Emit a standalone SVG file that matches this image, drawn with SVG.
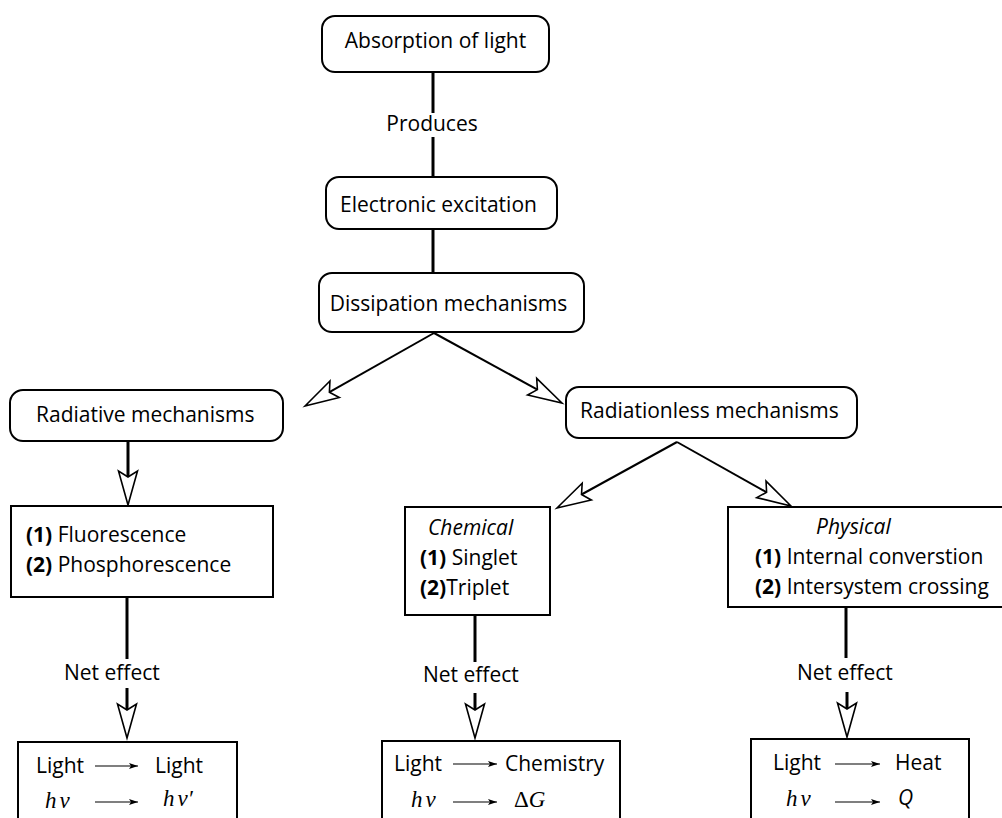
<svg xmlns="http://www.w3.org/2000/svg" width="1002" height="818" viewBox="0 0 1002 818">
<style>
text{font-family:"Open Sans","Liberation Sans",sans-serif;font-size:21px;fill:#000}
.c{text-anchor:middle}
.b{font-weight:bold}
.i{font-style:italic}
.m{font-family:"Liberation Serif",serif;font-style:italic;font-size:23px}
.mu{font-family:"Liberation Serif",serif;font-size:23px}
.rb{fill:#fff;stroke:#000;stroke-width:2}
.thick{stroke:#000;stroke-width:3;fill:none}
.thin{stroke:#000;stroke-width:2;fill:none}
.sm{stroke:#000;stroke-width:1.2;fill:none}
</style>
<defs>
<marker id="open" markerUnits="userSpaceOnUse" viewBox="-10 -12 42 24" refX="0" refY="0" markerWidth="42" markerHeight="24" orient="auto" overflow="visible">
<path d="M28,0 L-6,-9.5 L0,0 L-6,9.5 Z" fill="#fff" stroke="#000" stroke-width="1.6" stroke-linejoin="miter"/>
</marker>
<marker id="small" markerUnits="userSpaceOnUse" viewBox="-10 -5 12 10" refX="0" refY="0" markerWidth="12" markerHeight="10" orient="auto" overflow="visible">
<path d="M0,0 L-9,-3 L-7,0 L-9,3 Z" fill="#000"/>
</marker>
</defs>

<g id="connectors">
<line class="thick" x1="433" y1="72" x2="433" y2="113"/>
<line class="thick" x1="433" y1="137" x2="433" y2="177"/>
<line class="thick" x1="433" y1="229" x2="433" y2="273"/>
<line class="thin" x1="434" y1="333" x2="329.4" y2="392.2" marker-end="url(#open)"/>
<line class="thin" x1="434" y1="333" x2="537.4" y2="389.6" marker-end="url(#open)"/>
<line class="thick" x1="128" y1="441" x2="128" y2="477" marker-end="url(#open)"/>
<line class="thin" x1="677" y1="442" x2="581.5" y2="494.5" marker-end="url(#open)"/>
<line class="thin" x1="677" y1="442" x2="766.6" y2="492.3" marker-end="url(#open)"/>
<line class="thick" x1="127" y1="597" x2="127" y2="659"/>
<line class="thick" x1="127" y1="688" x2="127" y2="710" marker-end="url(#open)"/>
<line class="thick" x1="475" y1="615" x2="475" y2="662"/>
<line class="thick" x1="475" y1="693" x2="475" y2="710" marker-end="url(#open)"/>
<line class="thick" x1="846" y1="607" x2="846" y2="658"/>
<line class="thick" x1="847" y1="692" x2="847" y2="709" marker-end="url(#open)"/>
<text x="432" y="131" class="c">Produces</text>
<text x="64" y="680">Net effect</text>
<text x="423" y="682">Net effect</text>
<text x="797" y="680">Net effect</text>
</g>

<g id="absorption">
<rect class="rb" x="322" y="16" width="227" height="56" rx="13"/>
<text x="435.5" y="48" class="c">Absorption of light</text>
</g>
<g id="excitation">
<rect class="rb" x="326" y="177" width="231" height="52" rx="13"/>
<text x="438.5" y="212" class="c">Electronic excitation</text>
</g>
<g id="dissipation">
<rect class="rb" x="319" y="273" width="265" height="59" rx="13"/>
<text x="448.5" y="311" class="c">Dissipation mechanisms</text>
</g>
<g id="radiative">
<rect class="rb" x="10" y="390" width="273" height="51" rx="13"/>
<text x="36" y="422">Radiative mechanisms</text>
</g>
<g id="radiationless">
<rect class="rb" x="566" y="387" width="291" height="51" rx="13"/>
<text x="580" y="418">Radiationless mechanisms</text>
</g>
<g id="fluorescence">
<rect class="rb" x="11" y="506" width="262" height="91"/>
<text x="26" y="542"><tspan class="b">(1)</tspan> Fluorescence</text>
<text x="26" y="572"><tspan class="b">(2)</tspan> Phosphorescence</text>
</g>
<g id="chemical">
<rect class="rb" x="405" y="507" width="145" height="108"/>
<text x="428" y="535" class="i">Chemical</text>
<text x="420" y="565"><tspan class="b">(1)</tspan> Singlet</text>
<text x="420" y="595"><tspan class="b">(2)</tspan>Triplet</text>
</g>
<g id="physical">
<rect class="rb" x="728" y="507" width="280" height="100"/>
<text x="816" y="534" class="i">Physical</text>
<text x="755" y="564"><tspan class="b">(1)</tspan> Internal converstion</text>
<text x="755" y="594"><tspan class="b">(2)</tspan> Intersystem  crossing</text>
</g>
<g id="effect-light">
<rect class="rb" x="18" y="742" width="219" height="90"/>
<text x="36" y="773">Light</text>
<line class="sm" x1="95" y1="766" x2="138" y2="766" marker-end="url(#small)"/>
<text x="155" y="773">Light</text>
<text x="45" y="808" class="m">h<tspan dx="3">ν</tspan></text>
<line class="sm" x1="95" y1="802" x2="138" y2="802" marker-end="url(#small)"/>
<text x="163" y="806" class="m">h<tspan dx="3">ν′</tspan></text>
</g>
<g id="effect-chemistry">
<rect class="rb" x="382" y="741" width="238" height="90"/>
<text x="394" y="771">Light</text>
<line class="sm" x1="453" y1="764" x2="497" y2="764" marker-end="url(#small)"/>
<text x="505" y="771">Chemistry</text>
<text x="411" y="807" class="m">h<tspan dx="3">ν</tspan></text>
<line class="sm" x1="453" y1="802" x2="497" y2="802" marker-end="url(#small)"/>
<text x="514" y="807" class="mu">Δ<tspan class="m">G</tspan></text>
</g>
<g id="effect-heat">
<rect class="rb" x="751" y="739" width="218" height="90"/>
<text x="773" y="770">Light</text>
<line class="sm" x1="835" y1="764" x2="880" y2="764" marker-end="url(#small)"/>
<text x="895" y="770">Heat</text>
<text x="786" y="806" class="m">h<tspan dx="3">ν</tspan></text>
<line class="sm" x1="835" y1="802" x2="880" y2="802" marker-end="url(#small)"/>
<text x="898" y="805" class="i">Q</text>
</g>
</svg>
